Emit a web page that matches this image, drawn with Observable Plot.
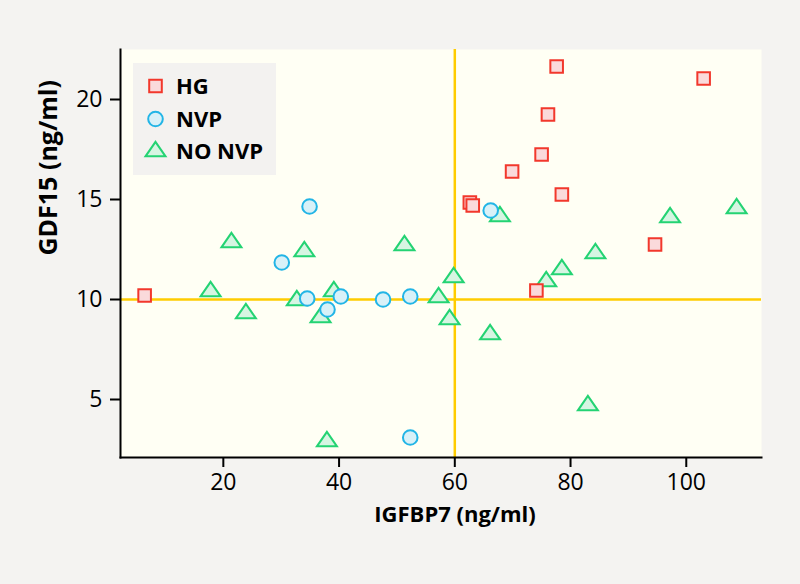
<!DOCTYPE html>
<html>
<head>
<meta charset="utf-8">
<script src="https://cdn.jsdelivr.net/npm/d3@7"></script>
<script src="https://cdn.jsdelivr.net/npm/@observablehq/plot@0.6"></script>
<style>
  html, body { margin: 0; padding: 0; background: #f4f3f1; }
  #chart { width: 800px; height: 584px; position: relative; background: #f4f3f1; }
</style>
</head>
<body>
<div id="chart"></div>
<script>
// ---- data ----
const groups = ["HG", "NVP", "NO NVP"];
const hgX = [6.4, 62.6, 63.1, 69.9, 74.1, 75.0, 76.1, 77.6, 78.5, 94.6, 103.0];
const hgY = [10.2, 14.85, 14.7, 16.4, 10.45, 17.25, 19.25, 21.65, 15.25, 12.75, 21.05];
const nvpX = [30.1, 34.5, 34.9, 38.0, 40.3, 47.6, 52.3, 52.3, 66.2];
const nvpY = [11.85, 10.05, 14.65, 9.5, 10.15, 10.0, 10.15, 3.1, 14.45];
const noX = [17.8, 21.4, 23.9, 32.7, 34.0, 36.8, 37.9, 39.1, 51.3, 57.2, 59.1, 59.8, 66.1, 67.8, 75.8, 78.5, 83.0, 84.3, 97.2, 108.7];
const noY = [10.4, 12.85, 9.3, 9.95, 12.4, 9.1, 2.9, 10.4, 12.7, 10.1, 9.0, 11.1, 8.25, 14.15, 10.9, 11.5, 4.7, 12.3, 14.1, 14.55];
const xTicks = [20, 40, 60, 80, 100];
const yTicks = [5, 10, 15, 20];
const cutX = [60];
const cutY = [10];
const xLabel = "IGFBP7 (ng/ml)";
const yLabel = "GDF15 (ng/ml)";

const toRows = (xs, ys, g) => xs.map((x, i) => ({x, y: ys[i], g}));
const hg = toRows(hgX, hgY, "HG");
const nvp = toRows(nvpX, nvpY, "NVP");
const no = toRows(noX, noY, "NO NVP");

// ---- symbols (style) ----
const sq = {draw(ctx) { const s = 6.3; ctx.moveTo(-s, -s); ctx.lineTo(s, -s); ctx.lineTo(s, s); ctx.lineTo(-s, s); ctx.closePath(); }};
const circ = {draw(ctx) { const r = 7.3; ctx.moveTo(r, 0); ctx.arc(0, 0, r, 0, 2 * Math.PI); }};
const tri = {draw(ctx) { const w = 10, h = 14.5; ctx.moveTo(0, -2 * h / 3); ctx.lineTo(w, h / 3); ctx.lineTo(-w, h / 3); ctx.closePath(); }};

const styles = {
  "HG": {symbol: sq, stroke: "#f2382c", fill: "#fadadb"},
  "NVP": {symbol: circ, stroke: "#22b5e6", fill: "#d8f1f8"},
  "NO NVP": {symbol: tri, stroke: "#24d373", fill: "#d6f5e2"}
};

const dotMark = (rows, g) => Plot.dot(rows, {
  x: "x", y: "y", symbol: styles[g].symbol, r: 7,
  stroke: styles[g].stroke, fill: styles[g].fill, strokeWidth: 2,
  strokeLinejoin: "miter"
});

const svg = Plot.plot({
  width: 800, height: 584,
  marginLeft: 120, marginRight: 39, marginTop: 49, marginBottom: 127,
  style: {background: "transparent", fontFamily: "'Open Sans', sans-serif", fontSize: "23px", color: "black"},
  x: {domain: [2.23, 113.0]},
  y: {domain: [2.1, 22.5]},
  marks: [
    Plot.frame({fill: "#fffff4", stroke: null}),
    Plot.ruleX(cutX, {stroke: "#ffcc00", strokeWidth: 2.5}),
    Plot.ruleY(cutY, {stroke: "#ffcc00", strokeWidth: 2.5}),
    Plot.axisX({ticks: xTicks, tickSize: 10, tickPadding: 6, strokeWidth: 2, label: null, tickFormat: d => d}),
    Plot.axisY({ticks: yTicks, tickSize: 10, tickPadding: 8, strokeWidth: 2, label: null, tickFormat: d => d}),
    Plot.frame({anchor: "left", stroke: "black", strokeWidth: 2}),
    Plot.frame({anchor: "bottom", stroke: "black", strokeWidth: 2}),
    dotMark(no, "NO NVP"),
    dotMark(nvp, "NVP"),
    dotMark(hg, "HG"),
    Plot.text([xLabel], {text: d => d, frameAnchor: "bottom", dy: 64, dx: 14, fontWeight: "bold", fontSize: 22, fill: "black"}),
    Plot.text([yLabel], {text: d => d, frameAnchor: "left", rotate: -90, dx: -71.5, dy: 2, fontWeight: "bold", fontSize: 25, fill: "black"})
  ]
});

// ---- legend (drawn inside the svg) ----
const lg = d3.select(svg).append("g");
lg.append("rect").attr("x", 133).attr("y", 63).attr("width", 143).attr("height", 112).attr("fill", "#f3f2f0");
const rowY = [86, 119, 151.5];
groups.forEach((g, i) => {
  const row = lg.append("g").attr("transform", `translate(155.5,${rowY[i]})`);
  row.append("path")
    .attr("d", d3.symbol(styles[g].symbol, 64)())
    .attr("fill", styles[g].fill).attr("stroke", styles[g].stroke)
    .attr("stroke-width", 2).attr("stroke-linejoin", "miter");
  row.append("text").attr("x", 20.5).attr("dy", "0.36em")
    .attr("text-anchor", "start")
    .attr("font-family", "'Open Sans', sans-serif").attr("font-weight", "bold")
    .attr("font-size", 22).attr("fill", "black").text(g);
});

document.getElementById("chart").appendChild(svg);
</script>
</body>
</html>
